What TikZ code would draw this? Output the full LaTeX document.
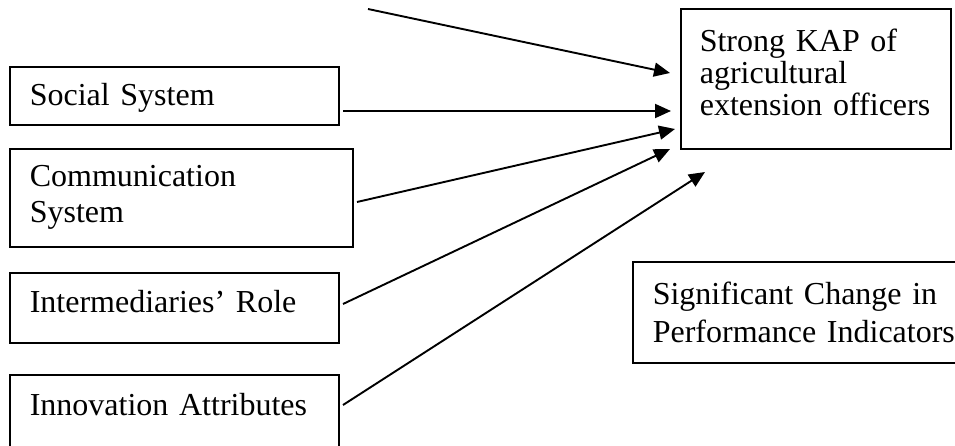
\documentclass[tikz,border=0pt]{standalone}
\usepackage{fontspec}
\setmainfont{Liberation Serif}
\usetikzlibrary{arrows.meta}
\tikzset{
  box/.style={draw, line width=1.6pt, anchor=north west, inner xsep=20pt, inner ysep=0pt, align=left,
    font=\fontsize{32}{36}\selectfont},
  conn/.style={line width=1.9pt, -{Triangle[length=16pt,width=14pt]}}
}
\begin{document}
\begin{tikzpicture}[x=1pt,y=-1pt]
\useasboundingbox (0,0) rectangle (955,446);
\clip (0,0) rectangle (955,446);
\fill[white] (0,0) rectangle (955,446);
\node[box, text width=289pt, minimum height=58pt, text height=27pt] (social) at (9,66) {Social System};
\node[box, text width=303pt, minimum height=98pt, font=\fontsize{32}{36}\selectfont] (comm) at (9,148) {Communication\\System};
\node[box, text width=289pt, minimum height=70pt, text depth=12pt] (inter) at (9,272) {Intermediaries’ Role};
\node[box, text width=289pt, minimum height=96pt, text depth=36pt] (innov) at (9,374) {Innovation Attributes};
\node[box, text width=232pt, inner xsep=19pt, minimum height=140pt, text depth=78pt, font=\fontsize{32}{32}\selectfont] (kap) at (680,8) {Strong KAP of\\agricultural\\extension officers};
\node[box, text width=310pt, minimum height=101pt, font=\fontsize{32}{38}\selectfont] (signif) at (632,261) {Significant Change in\\Performance Indicators};
\coordinate (s1) at (368,9);   \coordinate (t1) at (670,73);
\coordinate (s2) at (343,111); \coordinate (t2) at (671,111);
\coordinate (s3) at (357,202); \coordinate (t3) at (675,129);
\coordinate (s4) at (343,304); \coordinate (t4) at (670,149);
\coordinate (s5) at (343,405); \coordinate (t5) at (705,172);
\draw[conn] (s1) -- (t1);
\draw[conn] (s2) -- (t2);
\draw[conn] (s3) -- (t3);
\draw[conn] (s4) -- (t4);
\draw[conn] (s5) -- (t5);
\end{tikzpicture}
\end{document}
